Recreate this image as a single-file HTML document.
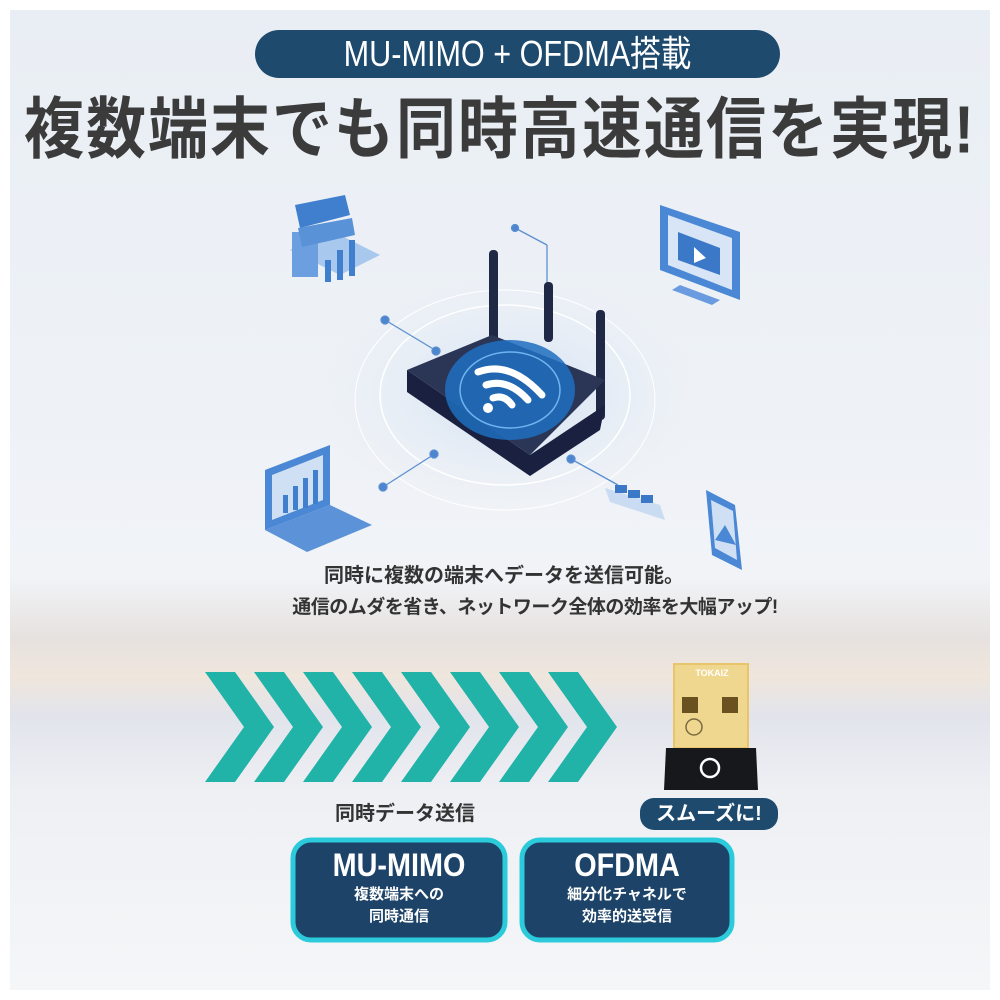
<!DOCTYPE html>
<html><head><meta charset="utf-8"><style>
html,body{margin:0;padding:0;background:#fff;}
#c{position:relative;width:1000px;height:1000px;overflow:hidden;background:#fff;font-family:"Liberation Sans","Noto Sans CJK JP",sans-serif;}
#bg{position:absolute;left:10px;top:10px;width:980px;height:980px;background:linear-gradient(180deg,#e9eef4 0%,#eef2f7 40%,#f1f3f7 58%,#e6e2df 64%,#efe6dc 68%,#e2e4ec 72%,#eef0f4 80%,#f5f6f8 100%);}
.t{position:absolute;white-space:nowrap;}
</style></head><body><div id="c"><div id="bg"></div>
<div style="position:absolute;left:255px;top:30px;width:525px;height:48px;border-radius:24px;background:#1e4a6e;"></div>
<div class="t" style="left:255px;width:525px;top:31px;text-align:center;color:#fff;font-size:36px;line-height:46px;transform:scaleX(0.85);">MU-MIMO + OFDMA搭載</div>
<div class="t" style="left:0;width:1000px;top:92px;text-align:center;color:#3b3b3b;font-size:60px;font-weight:bold;line-height:76px;letter-spacing:2px;transform:scaleY(1.12);">複数端末でも同時高速通信を実現!</div>
<svg style="position:absolute;left:0;top:0" width="1000" height="1000">
<defs><radialGradient id="g" cx="0.5" cy="0.5" r="0.5"><stop offset="0" stop-color="#cfe0f4"/><stop offset="1" stop-color="#e9eef4" stop-opacity="0"/></radialGradient></defs>
<ellipse cx="510" cy="395" rx="200" ry="120" fill="url(#g)"/>
<ellipse cx="505" cy="395" rx="125" ry="90" fill="none" stroke="#fff" stroke-width="1.5"/>
<ellipse cx="505" cy="400" rx="150" ry="110" fill="none" stroke="#fff" stroke-width="1"/>
<g stroke="#5b8fd0" stroke-width="1.3" fill="#4d86cf">
<line x1="385" y1="320" x2="435" y2="350"/><circle cx="385" cy="320" r="4"/><circle cx="436" cy="351" r="4"/>
<line x1="515" y1="228" x2="547" y2="245"/><line x1="547" y1="245" x2="547" y2="285"/><circle cx="515" cy="228" r="3.5"/>
<line x1="383" y1="487" x2="433" y2="455"/><circle cx="383" cy="487" r="4"/><circle cx="434" cy="454" r="4"/>
<line x1="571" y1="459" x2="618" y2="485"/><circle cx="571" cy="459" r="4"/>
</g>
<rect x="489" y="250" width="9" height="100" rx="4" fill="#1f2844"/>
<rect x="544" y="282" width="9" height="60" rx="4" fill="#1f2844"/>
<rect x="596" y="310" width="9" height="110" rx="4" fill="#1f2844"/>
<path d="M407,392 L530,476 L600,430 L605,405 L530,455 L407,370 Z" fill="#1a2140"/>
<path d="M407,370 L492,335 L605,380 L530,455 Z" fill="#2b3556"/>
<ellipse cx="510" cy="390" rx="65" ry="50" fill="#1f6ec0" opacity="0.85"/>
<ellipse cx="510" cy="390" rx="50" ry="38" fill="none" stroke="#6fb4f0" stroke-width="1.5"/>
<g fill="none" stroke="#fff" stroke-width="7" stroke-linecap="round">
<path d="M478,372 Q510,360 542,395"/><path d="M486,385 Q508,378 528,400"/><path d="M493,398 Q504,394 512,405"/></g>
<circle cx="488" cy="408" r="5" fill="#fff"/>
<g fill="#3f7fce">
<path d="M290,250 L340,275 L380,255 L330,230 Z" fill="#a9c8ee"/>
<rect x="292" y="232" width="26" height="45" fill="#6c9fe0"/>
<path d="M295,205 L345,195 L350,215 L300,228 Z"/><path d="M298,228 L352,218 L355,235 L302,247 Z" fill="#5a92d8"/>
<rect x="325" y="260" width="6" height="22"/><rect x="337" y="250" width="6" height="30"/><rect x="349" y="240" width="6" height="36"/>
<path d="M660,205 L740,232 L740,300 L660,270 Z" fill="#4a87d4"/><path d="M668,215 L732,238 L732,290 L668,265 Z" fill="#d7e5f6"/>
<path d="M678,232 L720,248 L720,275 L678,260 Z" fill="#3c78c8"/><path d="M694,247 L706,258 L694,263 Z" fill="#fff"/>
<path d="M680,285 L720,300 L712,305 L672,290 Z" fill="#6a9be0"/>
<path d="M265,470 L330,445 L330,505 L265,530 Z" fill="#4a87d4"/><path d="M272,475 L323,455 L323,500 L272,520 Z" fill="#cfe0f4"/>
<rect x="283" y="495" width="5" height="18"/><rect x="293" y="486" width="5" height="24"/><rect x="303" y="478" width="5" height="30"/><rect x="313" y="470" width="5" height="34"/>
<path d="M265,530 L330,505 L372,525 L307,552 Z" fill="#5b92d8"/>
<path d="M706,490 L735,505 L742,570 L712,555 Z" fill="#4a87d4"/><path d="M711,500 L733,511 L737,560 L715,548 Z" fill="#cfe0f4"/>
<path d="M715,540 L725,525 L736,545 Z" fill="#4a87d4"/>
<path d="M605,488 L660,505 L665,520 L610,502 Z" fill="#c9dcf2"/>
<rect x="615" y="485" width="12" height="8" fill="#3c78c8"/><rect x="628" y="490" width="12" height="8" fill="#3c78c8"/><rect x="641" y="495" width="12" height="8" fill="#3c78c8"/>
</g>
<g fill="#21b2a8">
<polygon points="205,672 235,672 274,727 235,782 205,782 244,727"/>
<polygon points="254,672 284,672 323,727 284,782 254,782 293,727"/>
<polygon points="303,672 333,672 372,727 333,782 303,782 342,727"/>
<polygon points="352,672 382,672 421,727 382,782 352,782 391,727"/>
<polygon points="401,672 431,672 470,727 431,782 401,782 440,727"/>
<polygon points="450,672 480,672 519,727 480,782 450,782 489,727"/>
<polygon points="499,672 529,672 568,727 529,782 499,782 538,727"/>
<polygon points="548,672 578,672 617,727 578,782 548,782 587,727"/>
</g>
<rect x="673" y="663" width="76" height="85" fill="#e8c56a"/>
<rect x="675" y="665" width="72" height="82" fill="#f0d78f"/>
<rect x="682" y="697" width="16" height="16" fill="#6a5220"/><rect x="722" y="697" width="16" height="16" fill="#6a5220"/>
<circle cx="694" cy="727" r="8" fill="none" stroke="#7a6a40" stroke-width="1.5"/>
<path d="M666,748 L756,748 L758,790 L664,790 Z" fill="#16181c"/>
<circle cx="710" cy="768" r="9" fill="none" stroke="#fff" stroke-width="2.5"/>
<rect x="640" y="798" width="138" height="32" rx="14" fill="#1e4a6e"/>
<rect x="293" y="840" width="212" height="100" rx="18" fill="#1d4468" stroke="#2ccbdc" stroke-width="5"/>
<rect x="522" y="840" width="210" height="100" rx="18" fill="#1d4468" stroke="#2ccbdc" stroke-width="5"/>
</svg>
<div class="t" style="left:712px;top:668px;width:40px;font-size:9px;color:#fff;font-weight:bold;transform:translateX(-50%);text-align:center;">TOKAIZ</div>
<div class="t" style="left:0;width:1008px;top:563px;text-align:center;color:#333;font-size:20px;font-weight:bold;line-height:26px;">同時に複数の端末へデータを送信可能。</div>
<div class="t" style="left:0;width:1070px;top:595px;text-align:center;color:#333;font-size:19px;font-weight:bold;line-height:26px;letter-spacing:-0.5px;">通信のムダを省き、ネットワーク全体の効率を大幅アップ!</div>
<div class="t" style="left:640px;width:138px;top:799px;text-align:center;color:#fff;font-size:20px;font-weight:bold;line-height:30px;">スムーズに!</div>
<div class="t" style="left:300px;width:210px;top:800px;text-align:center;color:#333;font-size:20px;font-weight:bold;line-height:28px;">同時データ送信</div>
<div class="t" style="left:293px;width:212px;top:847px;text-align:center;color:#fff;font-size:32px;font-weight:bold;line-height:36px;transform:scaleX(0.9);">MU-MIMO</div>
<div class="t" style="left:293px;width:212px;top:884px;text-align:center;color:#fff;font-size:15px;font-weight:bold;line-height:22px;">複数端末への<br>同時通信</div>
<div class="t" style="left:522px;width:210px;top:847px;text-align:center;color:#fff;font-size:32px;font-weight:bold;line-height:36px;transform:scaleX(0.9);">OFDMA</div>
<div class="t" style="left:522px;width:210px;top:884px;text-align:center;color:#fff;font-size:15px;font-weight:bold;line-height:22px;">細分化チャネルで<br>効率的送受信</div>
</div></body></html>
